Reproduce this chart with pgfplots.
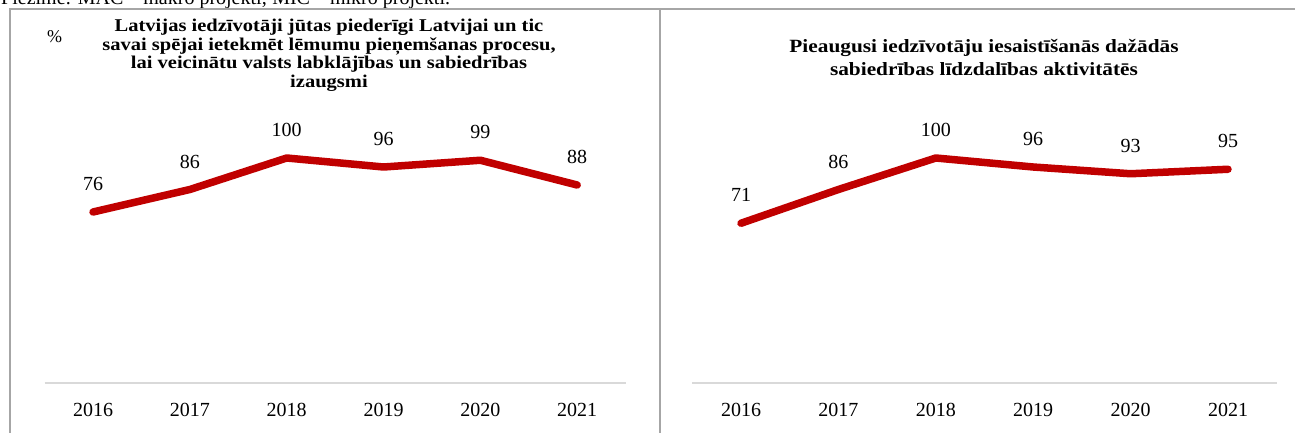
\documentclass[border=0pt]{standalone}
\usepackage{fontspec}
\setmainfont{Liberation Serif}
\newfontfamily\titlefont[FakeStretch=1.14]{Liberation Serif}
\usepackage{pgfplots}
\pgfplotsset{compat=1.18}
\definecolor{lineRed}{HTML}{C00000}
\definecolor{baseGray}{HTML}{D9D9D9}
\definecolor{frameGray}{HTML}{A6A6A6}

\pgfplotsset{panel/.style={
  scale only axis, height=270pt,
  xmin=2015.5, xmax=2021.5, ymin=0, ymax=120,
  axis x line*=bottom, axis y line=none,
  x axis line style={draw=baseGray, line width=1.5pt, -},
  xtick={2016,2017,2018,2019,2020,2021}, major tick length=0pt,
  ytick=\empty,
  x tick label style={font=\fontsize{20}{24}\selectfont, anchor=center, yshift=-27pt,
    /pgf/number format/1000 sep={}},
  /pgf/number format/assume math mode=true,
  nodes near coords,
  every node near coord/.append style={font=\fontsize{20}{24}\selectfont,
    anchor=center, yshift=28pt, text=black},
  clip=false,
}}

\begin{document}
\begin{tikzpicture}[x=1pt,y=1pt]
\useasboundingbox (0,0) rectangle (1295,432);
\clip (0,0) rectangle (1295,432);

% note cut by the top edge
\node[anchor=base west, inner sep=0, font=\fontsize{20}{24}\selectfont]
  at (1,427) {Piezīme: MAC – makro projekti; MIC – mikro projekti.};

% frames
\draw[frameGray, line width=2pt] (10,-5) -- (10,423) -- (1300,423);
\draw[frameGray, line width=2pt] (660,-5) -- (660,423);

% left panel
\begin{axis}[panel, width=581pt, at={(44.6pt,49pt)}, anchor=south west]
  \addplot[lineRed, line width=7.5pt, line join=round, line cap=round, mark=none]
    coordinates {(2016,76) (2017,86) (2018,100) (2019,96) (2020,99) (2021,88)};
\end{axis}
\node[font=\fontsize{18}{20}\selectfont] at (54.5,395.5) {\%};
\node[align=center, font=\titlefont\fontsize{18}{18.5}\selectfont\bfseries] at (329,377)
  {Latvijas iedzīvotāji jūtas piederīgi Latvijai un tic\\
   savai spējai ietekmēt lēmumu pieņemšanas procesu,\\
   lai veicinātu valsts labklājības un sabiedrības\\
   izaugsmi};

% right panel
\begin{axis}[panel, width=584.4pt, at={(692.3pt,49pt)}, anchor=south west]
  \addplot[lineRed, line width=7.5pt, line join=round, line cap=round, mark=none]
    coordinates {(2016,71) (2017,86) (2018,100) (2019,96) (2020,93) (2021,95)};
\end{axis}
\node[align=center, font=\titlefont\fontsize{18.7}{23}\selectfont\bfseries] at (984,374.5)
  {Pieaugusi iedzīvotāju iesaistīšanās dažādās\\
   sabiedrības līdzdalības aktivitātēs};
\end{tikzpicture}
\end{document}
